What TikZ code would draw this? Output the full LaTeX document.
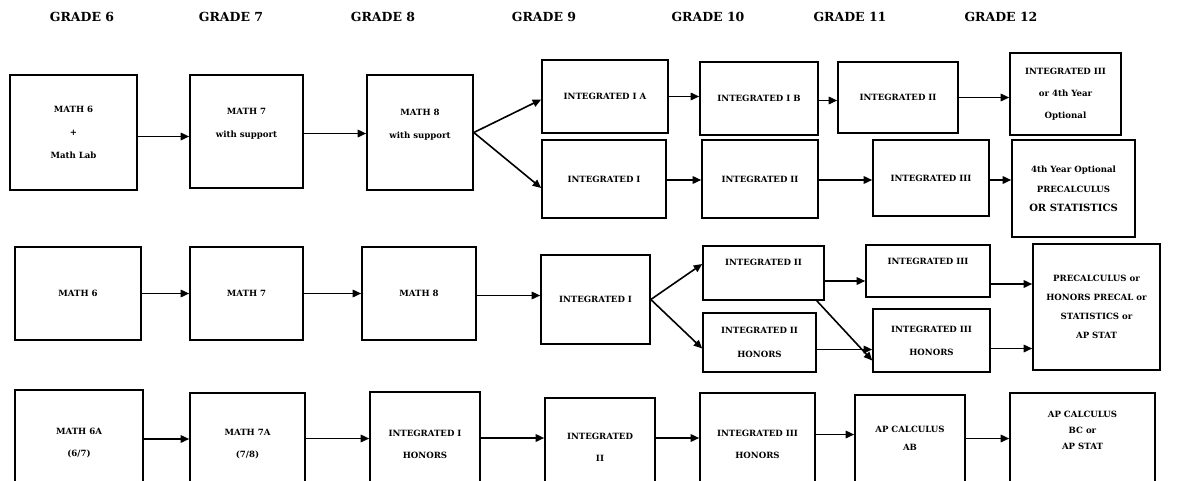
\documentclass[tikz,border=0pt]{standalone}
\usepackage{fontspec}
\setmainfont{DejaVu Serif}
\usetikzlibrary{arrows.meta}
\newcommand\mybox[6]{%
  \node[box, minimum width={(#4-#2)*1pt}, minimum height={(#5-#3)*1pt}] (#1) at ({(#2+#4)/2},{(#3+#5)/2}) {#6};}
\begin{document}
\begin{tikzpicture}[x=1pt,y=-1pt,
  box/.style={draw, line width=1.6pt, align=center, inner sep=0pt,
    font=\bfseries\fontsize{8.6}{10}\selectfont},
  arr/.style={line width=1.6pt, -{Triangle[length=8.5pt,width=7.5pt]}},
  hdr/.style={font=\bfseries\fontsize{12.5}{14}\selectfont}]
\useasboundingbox (0,0) rectangle (1183,480);
\clip (0,0) rectangle (1183,480);
% headers
\node[hdr] (h6) at (82,17) {GRADE 6};
\node[hdr] (h7) at (231,17) {GRADE 7};
\node[hdr] (h8) at (383,17) {GRADE 8};
\node[hdr] (h9) at (544,17) {GRADE 9};
\node[hdr] (h10) at (708,17) {GRADE 10};
\node[hdr] (h11) at (850,17) {GRADE 11};
\node[hdr] (h12) at (1001,17) {GRADE 12};
% row 1
\mybox{a1}{10}{75}{137}{190}{MATH 6\\[13pt]+\\[13pt]Math Lab}
\mybox{a2}{190}{75}{303}{188}{MATH 7\\[13pt]with support\\[4pt]\strut}
\mybox{a3}{367}{75}{473}{190}{MATH 8\\[13pt]with support\\[4pt]\strut}
\mybox{a4}{542}{60}{668}{133}{INTEGRATED I A}
\mybox{a5}{700}{62}{818}{135}{INTEGRATED I B}
\mybox{a6}{838}{62}{958}{133}{INTEGRATED II}
\mybox{a7}{1010}{53}{1121}{135}{INTEGRATED III\\[12pt]or 4th Year\\[12pt]Optional}
\mybox{b4}{542}{140}{666}{218}{INTEGRATED I}
\mybox{b5}{702}{140}{818}{218}{INTEGRATED II}
\mybox{b6}{873}{140}{989}{216}{INTEGRATED III}
\mybox{b7}{1012}{140}{1135}{237}{4th Year Optional\\[10pt]PRECALCULUS\\[9pt]{\fontsize{10}{11.5}\selectfont OR STATISTICS}}
% row 2
\mybox{c1}{15}{247}{141}{340}{MATH 6}
\mybox{c2}{190}{247}{303}{340}{MATH 7}
\mybox{c3}{362}{247}{476}{340}{MATH 8}
\mybox{c4}{541}{255}{650}{344}{INTEGRATED I}
\mybox{c5}{703}{246}{824}{300}{INTEGRATED II\\[8pt]\strut}
\mybox{c6}{866}{245}{990}{297}{INTEGRATED III\\[6pt]\strut}
\mybox{d5}{703}{313}{816}{372}{INTEGRATED II\\[14pt]HONORS}
\mybox{d6}{873}{309}{990}{372}{INTEGRATED III\\[13pt]HONORS}
\mybox{c7}{1033}{244}{1160}{370}{PRECALCULUS or\\[9pt]HONORS PRECAL or\\[9pt]STATISTICS or\\[9pt]AP STAT}
% row 3 (boxes run past the lower edge)
\mybox{e1}{15}{390}{143}{496}{MATH 6A\\[12pt](6/7)}
\mybox{e2}{190}{393}{305}{496}{MATH 7A\\[12pt](7/8)}
\mybox{e3}{370}{392}{480}{496}{INTEGRATED I\\[12pt]HONORS}
\mybox{e4}{545}{398}{655}{496}{INTEGRATED\\[12pt]II}
\mybox{e5}{700}{393}{815}{496}{INTEGRATED III\\[12pt]HONORS}
\mybox{e6}{855}{395}{965}{496}{AP CALCULUS\\[8pt]AB\\[2pt]\strut}
\mybox{e7}{1010}{393}{1155}{496}{AP CALCULUS\\[6pt]BC or\\[6pt]AP STAT\\[16pt]\strut}
% connector start points
\coordinate (pa1) at ([yshift=-4pt]a1.east);
\coordinate (pa2) at ([yshift=-2pt]a2.east);
\coordinate (pa4) at (a4.east);
\coordinate (pa5) at ([yshift=-2pt]a5.east);
\coordinate (pa6) at (a6.east);
\coordinate (pb4) at ([yshift=-1pt]b4.east);
\coordinate (pb5) at ([yshift=-1pt]b5.east);
\coordinate (pb6) at ([yshift=-2pt]b6.east);
\coordinate (pc3) at ([yshift=-2pt]c3.east);
\coordinate (pc5) at ([yshift=-8pt]c5.east);
\coordinate (pc6) at ([yshift=-13pt]c6.east);
\coordinate (pd5) at ([yshift=-7pt]d5.east);
\coordinate (pd6) at ([yshift=-8pt]d6.east);
\coordinate (pe1) at ([yshift=4pt]e1.east);
\coordinate (pe2) at ([yshift=6pt]e2.east);
\coordinate (pe3) at ([yshift=6pt]e3.east);
\coordinate (pe4) at ([yshift=9pt]e4.east);
\coordinate (pe5) at ([yshift=10pt]e5.east);
\coordinate (pe6) at ([yshift=7pt]e6.east);
% arrows row 1
\draw[arr] (pa1) -- (pa1 -| a2.west);
\draw[arr] (pa2) -- (pa2 -| a3.west);
\draw[arr] (a3.east) -- ([yshift=-3pt]a4.west);
\draw[arr] (a3.east) -- ([yshift=-9pt]b4.west);
\draw[arr] (pa4) -- (pa4 -| a5.west);
\draw[arr] (pa5) -- (pa5 -| a6.west);
\draw[arr] (pa6) -- (pa6 -| a7.west);
\draw[arr] (pb4) -- (pb4 -| b5.west);
\draw[arr] (pb5) -- (pb5 -| b6.west);
\draw[arr] (pb6) -- (pb6 -| b7.west);
% arrows row 2
\draw[arr] (c1.east) -- (c1.east -| c2.west);
\draw[arr] (c2.east) -- (c2.east -| c3.west);
\draw[arr] (pc3) -- (pc3 -| c4.west);
\draw[arr] (c4.east) -- ([yshift=9pt]c5.west);
\draw[arr] (c4.east) -- ([yshift=-6pt]d5.west);
\draw[arr] (pc5) -- (pc5 -| c6.west);
\draw[arr] ([xshift=-8pt]c5.south east) -- ([yshift=-20pt]d6.west);
\draw[arr] (pd5) -- (pd5 -| d6.west);
\draw[arr] (pc6) -- (pc6 -| c7.west);
\draw[arr] (pd6) -- (pd6 -| c7.west);
% arrows row 3
\draw[arr] (pe1) -- (pe1 -| e2.west);
\draw[arr] (pe2) -- (pe2 -| e3.west);
\draw[arr] (pe3) -- (pe3 -| e4.west);
\draw[arr] (pe4) -- (pe4 -| e5.west);
\draw[arr] (pe5) -- (pe5 -| e6.west);
\draw[arr] (pe6) -- (pe6 -| e7.west);
\end{tikzpicture}
\end{document}
